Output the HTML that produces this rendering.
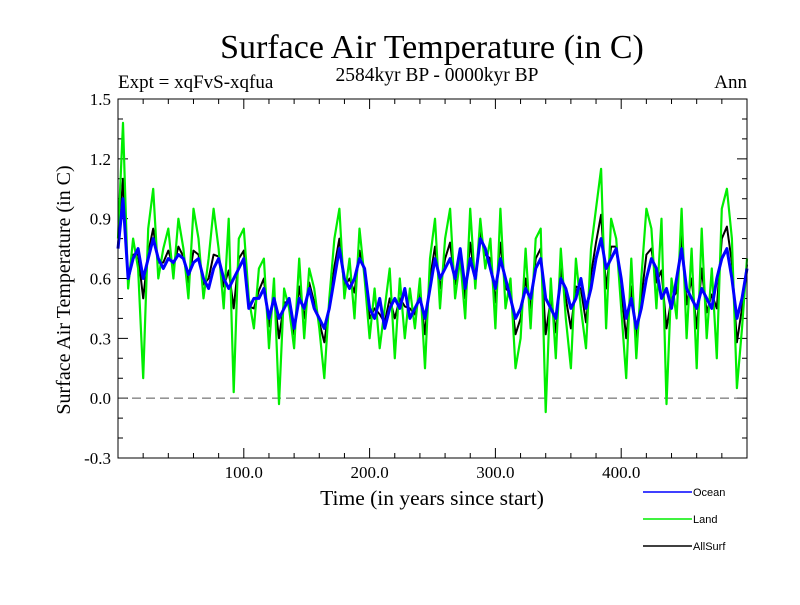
<!DOCTYPE html>
<html><head><meta charset="utf-8"><style>
body{margin:0;background:#fff}
svg text{font-family:"Liberation Serif",serif}
</style></head><body>
<svg id="c" width="800" height="600" xmlns="http://www.w3.org/2000/svg">
<text x="432" y="58" font-size="34" text-anchor="middle">Surface Air Temperature (in C)</text>
<text x="437" y="81" font-size="19.5" text-anchor="middle">2584kyr BP - 0000kyr BP</text>
<text x="118" y="88" font-size="19">Expt = xqFvS-xqfua</text>
<text x="747" y="88" font-size="19" text-anchor="end">Ann</text>
<text transform="translate(70,290) rotate(-90)" font-size="20" text-anchor="middle">Surface Air Temperature (in C)</text>
<text x="432" y="505" font-size="21.5" text-anchor="middle">Time (in years since start)</text>
<g id="axes"></g>
<g id="series"></g>
<rect x="118" y="99" width="629" height="359" fill="none" stroke="#000" stroke-width="1"/>
<g font-family="Liberation Sans,sans-serif" font-size="11">
<line x1="643" y1="492" x2="692" y2="492" stroke="#0000ff" stroke-width="1.5"/>
<text x="693" y="496" style="font-family:'Liberation Sans',sans-serif">Ocean</text>
<line x1="643" y1="519" x2="692" y2="519" stroke="#00ee00" stroke-width="1.5"/>
<text x="693" y="523" style="font-family:'Liberation Sans',sans-serif">Land</text>
<line x1="643" y1="546" x2="692" y2="546" stroke="#000" stroke-width="1.5"/>
<text x="693" y="550" style="font-family:'Liberation Sans',sans-serif">AllSurf</text>
</g>
</svg>
<script>
const step = 4;
const ocean = [0.75,1.0,0.6,0.7,0.75,0.6,0.7,0.8,0.7,0.65,
0.7,0.68,0.72,0.7,0.62,0.68,0.7,0.6,0.55,0.65,
0.7,0.6,0.55,0.6,0.65,0.7,0.45,0.5,0.5,0.55,
0.4,0.5,0.4,0.45,0.5,0.35,0.5,0.45,0.55,0.45,
0.4,0.35,0.45,0.6,0.75,0.6,0.55,0.6,0.7,0.65,
0.45,0.4,0.5,0.35,0.45,0.5,0.45,0.55,0.4,0.45,
0.5,0.4,0.55,0.7,0.6,0.65,0.7,0.6,0.75,0.55,
0.7,0.6,0.8,0.75,0.65,0.55,0.7,0.6,0.5,0.4,
0.45,0.55,0.5,0.65,0.7,0.5,0.45,0.4,0.6,0.55,
0.45,0.5,0.6,0.45,0.55,0.7,0.8,0.65,0.7,0.75,
0.6,0.4,0.5,0.35,0.45,0.6,0.7,0.65,0.5,0.55,
0.45,0.6,0.75,0.55,0.5,0.45,0.55,0.5,0.45,0.6,
0.7,0.75,0.6,0.4,0.5,0.65];
const land = [0.8,1.38,0.55,0.8,0.65,0.1,0.85,1.05,0.6,0.75,
0.85,0.6,0.9,0.75,0.5,0.95,0.8,0.5,0.7,0.95,
0.75,0.45,0.9,0.03,0.8,0.85,0.5,0.35,0.65,0.7,
0.25,0.6,-0.03,0.55,0.45,0.25,0.7,0.3,0.65,0.55,
0.35,0.1,0.5,0.8,0.95,0.5,0.7,0.4,0.85,0.6,
0.3,0.55,0.25,0.45,0.65,0.2,0.6,0.3,0.55,0.35,
0.6,0.15,0.7,0.9,0.45,0.8,0.95,0.5,0.7,0.4,
0.95,0.55,0.9,0.65,0.8,0.35,0.95,0.45,0.6,0.15,
0.3,0.75,0.35,0.8,0.85,-0.07,0.6,0.2,0.75,0.4,
0.15,0.7,0.45,0.25,0.75,0.95,1.15,0.35,0.9,0.8,
0.45,0.1,0.7,0.2,0.6,0.95,0.85,0.45,0.9,-0.03,
0.6,0.4,0.95,0.3,0.75,0.15,0.85,0.3,0.65,0.2,
0.95,1.05,0.8,0.05,0.35,0.7];
const allsurf = [0.76,1.1,0.58,0.72,0.72,0.5,0.73,0.85,0.68,0.68,
0.74,0.66,0.76,0.71,0.58,0.74,0.72,0.57,0.6,0.72,
0.71,0.56,0.64,0.45,0.7,0.74,0.46,0.45,0.54,0.6,
0.36,0.52,0.3,0.48,0.48,0.32,0.56,0.4,0.58,0.48,
0.38,0.28,0.46,0.66,0.8,0.56,0.6,0.53,0.74,0.63,
0.4,0.45,0.42,0.38,0.5,0.4,0.5,0.46,0.45,0.42,
0.53,0.32,0.6,0.76,0.55,0.7,0.78,0.57,0.73,0.5,
0.78,0.58,0.83,0.72,0.7,0.48,0.78,0.55,0.53,0.32,
0.4,0.6,0.45,0.7,0.75,0.32,0.5,0.33,0.65,0.5,
0.35,0.56,0.55,0.38,0.62,0.78,0.92,0.55,0.76,0.76,
0.55,0.3,0.56,0.3,0.5,0.72,0.75,0.58,0.64,0.35,
0.5,0.53,0.82,0.47,0.6,0.35,0.65,0.43,0.52,0.45,
0.8,0.86,0.68,0.28,0.45,0.67];
const xTicks = [100,200,300,400];
const xTickLabels = ["100.0","200.0","300.0","400.0"];
const yTicks = [-0.3,0,0.3,0.6,0.9,1.2,1.5];
const yTickLabels = ["-0.3","0.0","0.3","0.6","0.9","1.2","1.5"];

const NS="http://www.w3.org/2000/svg";
const X0=118,X1=747,Y0=458,Y1=99;
const xMax=500, yMin=-0.3, yMax=1.5;
const sx=v=>X0+(v/xMax)*(X1-X0);
const sy=v=>Y0-(v-yMin)/(yMax-yMin)*(Y0-Y1);
const axes=document.getElementById('axes');
function mk(tag,attrs,parent){const e=document.createElementNS(NS,tag);for(const k in attrs)e.setAttribute(k,attrs[k]);parent.appendChild(e);return e;}
for(let i=-3;i<=15;i++){const v=i/10,y=sy(v),major=(i%3===0),L=major?10:5;
 const t=mk('path',{d:`M${X0} ${y}h${L}M${X1} ${y}h${-L}`,stroke:'#000','stroke-width':1},axes);
 
 }
yTicks.forEach((v,i)=>{const t=mk('text',{x:111,y:sy(v)+6,'font-size':17,'text-anchor':'end'},axes);t.textContent=yTickLabels[i];
 
 });
for(let v=20;v<500;v+=20){const x=sx(v),L=(v%100===0)?10:5;
 const t=mk('path',{d:`M${x} ${Y0}v${-L}M${x} ${Y1}v${L}`,stroke:'#000','stroke-width':1},axes);
 
 }
xTicks.forEach((v,i)=>{const t=mk('text',{x:sx(v),y:478,'font-size':17,'text-anchor':'middle'},axes);t.textContent=xTickLabels[i];
 
 });
const z=mk('line',{x1:X0,x2:X1,y1:sy(0),y2:sy(0),stroke:'#555','stroke-dasharray':'9,5','stroke-width':1},axes);


const g=document.getElementById('series');
function line(arr,color,name,w){const d=arr.map((v,i)=>(i?'L':'M')+sx(Math.min(i*step,xMax)).toFixed(1)+' '+sy(v).toFixed(1)).join('');
 const p=mk('path',{d:d,fill:'none',stroke:color,'stroke-width':w,'stroke-linejoin':'round'},g);
 
 }
line(allsurf,'#000','allsurf-series',2);
line(land,'#00ee00','land-series',2.2);
line(ocean,'#0000ff','ocean-series',3);
</script>
</body></html>
